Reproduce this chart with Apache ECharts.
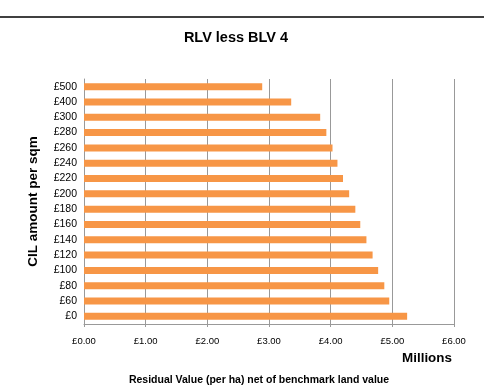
<!DOCTYPE html>
<html><head><meta charset="utf-8">
<script src="https://cdn.jsdelivr.net/npm/echarts@6/dist/echarts.min.js"></script>
<style>html,body{margin:0;padding:0;background:#fff}#c{width:484px;height:387px}</style>
</head><body><div id="c"></div>
<script>
const categories = ['£0','£60','£80','£100','£120','£140','£160','£180','£200','£220','£240','£260','£280','£300','£400','£500'];
const values = [5.24,4.95,4.87,4.77,4.68,4.58,4.48,4.40,4.30,4.20,4.11,4.03,3.93,3.83,3.36,2.89];
const xTicks = [0,1,2,3,4,5,6];
const F = 'Liberation Sans, Arial, sans-serif';
const chart = echarts.init(document.getElementById('c'));
chart.setOption({
  animation:false,
  textStyle:{fontFamily:F},
  graphic:[
    {type:'line',shape:{x1:0,y1:17,x2:484,y2:17},style:{stroke:'#000',lineWidth:1.5}},
    {type:'text',x:236,y:38,style:{text:'RLV less BLV 4',font:'bold 14.5px '+F,fill:'#000',textAlign:'center',textVerticalAlign:'middle'}},
    {type:'text',x:259,y:380,style:{text:'Residual Value (per ha) net of benchmark land value',font:'bold 10.5px '+F,fill:'#000',textAlign:'center',textVerticalAlign:'middle'}},
    {type:'text',x:427,y:358,style:{text:'Millions',font:'bold 13.4px '+F,fill:'#000',textAlign:'center',textVerticalAlign:'middle'}}
  ],
  grid:{left:84,right:30,top:79,bottom:63},
  xAxis:{type:'value',min:xTicks[0],max:xTicks[xTicks.length-1],interval:1,
    axisLine:{show:true,lineStyle:{color:'#999'}},
    axisTick:{show:true,length:3,lineStyle:{color:'#999'}},
    axisLabel:{color:'#000',fontSize:9.5,margin:12,fontFamily:F,formatter:v=>'£'+v.toFixed(2)},
    splitLine:{show:true,lineStyle:{color:'#999',width:1}}},
  yAxis:{type:'category',data:categories,
    name:'CIL amount per sqm',nameLocation:'middle',nameGap:44,nameRotate:90,
    nameTextStyle:{fontSize:13.5,fontWeight:'bold',color:'#000',fontFamily:F},
    axisLine:{show:true,lineStyle:{color:'#999'}},
    axisTick:{show:false},
    axisLabel:{color:'#000',fontSize:10.5,margin:7,fontFamily:F}},
  series:[{type:'bar',data:values,barWidth:7,itemStyle:{color:'#F79646'}}]
});
</script></body></html>
